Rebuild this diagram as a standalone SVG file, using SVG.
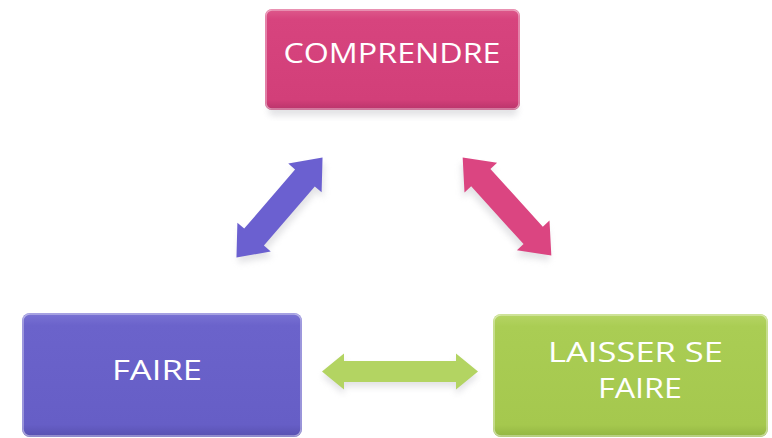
<svg xmlns="http://www.w3.org/2000/svg" width="772" height="438" viewBox="0 0 772 438">
  <defs>
    <linearGradient id="gPink" x1="0" y1="0" x2="0" y2="1">
      <stop offset="0" stop-color="#de5a8c"/>
      <stop offset="0.1" stop-color="#d7447e"/>
      <stop offset="0.9" stop-color="#d23f79"/>
      <stop offset="1" stop-color="#b8336a"/>
    </linearGradient>
    <linearGradient id="gBlue" x1="0" y1="0" x2="0" y2="1">
      <stop offset="0" stop-color="#7a73d4"/>
      <stop offset="0.1" stop-color="#6b63cb"/>
      <stop offset="0.9" stop-color="#665ec6"/>
      <stop offset="1" stop-color="#5850b0"/>
    </linearGradient>
    <linearGradient id="gGreen" x1="0" y1="0" x2="0" y2="1">
      <stop offset="0" stop-color="#b6d565"/>
      <stop offset="0.1" stop-color="#aacd54"/>
      <stop offset="0.9" stop-color="#a5c84e"/>
      <stop offset="1" stop-color="#93b542"/>
    </linearGradient>
    <filter id="soft" x="-20%" y="-20%" width="140%" height="160%">
      <feGaussianBlur stdDeviation="3"/>
    </filter>
  </defs>
  <style>
    .lbl { font-family: "Open Sans", "Liberation Sans", sans-serif; fill: #ffffff; text-anchor: middle; }
    .shadow { fill: #b0b0b8; opacity: 0.35; filter: url(#soft); }
    .edge { fill: none; stroke: #ffffff; stroke-opacity: 0.45; stroke-width: 1.5; }
  </style>
  <rect width="772" height="438" fill="#ffffff"/>

  <g id="connectors">
    <g transform="translate(279.5,207.5) rotate(-49.3)">
      <path class="shadow" transform="translate(-3,5)" d="M -66 0 L -39 -22 L -39 -13 L 39 -13 L 39 -22 L 66 0 L 39 22 L 39 13 L -39 13 L -39 22 Z"/>
      <path fill="#6b60d0" d="M -66 0 L -39 -22 L -39 -13 L 39 -13 L 39 -22 L 66 0 L 39 22 L 39 13 L -39 13 L -39 22 Z"/>
    </g>
    <g transform="translate(507,206.5) rotate(47.8)">
      <path class="shadow" transform="translate(3,5)" d="M -66 0 L -39 -22 L -39 -13 L 39 -13 L 39 -22 L 66 0 L 39 22 L 39 13 L -39 13 L -39 22 Z"/>
      <path fill="#db4581" d="M -66 0 L -39 -22 L -39 -13 L 39 -13 L 39 -22 L 66 0 L 39 22 L 39 13 L -39 13 L -39 22 Z"/>
    </g>
    <g transform="translate(400,371.5)">
      <path class="shadow" transform="translate(0,5)" d="M -78 0 L -56 -18 L -56 -10.5 L 56 -10.5 L 56 -18 L 78 0 L 56 18 L 56 10.5 L -56 10.5 L -56 18 Z"/>
      <path fill="#b3d462" d="M -78 0 L -56 -18 L -56 -10.5 L 56 -10.5 L 56 -18 L 78 0 L 56 18 L 56 10.5 L -56 10.5 L -56 18 Z"/>
    </g>
  </g>

  <g id="node-comprendre">
    <rect class="shadow" x="268" y="104" width="250" height="12" rx="6"/>
    <rect x="265" y="9" width="255" height="101" rx="7" fill="url(#gPink)"/>
    <rect class="edge" x="266" y="10" width="253" height="99" rx="6"/>
    <text class="lbl" x="392" y="63" font-size="27" textLength="217" lengthAdjust="spacingAndGlyphs">COMPRENDRE</text>
  </g>

  <g id="node-faire">
    <rect x="22" y="313" width="280" height="124" rx="8" fill="url(#gBlue)"/>
    <rect class="edge" x="23" y="314" width="278" height="122" rx="7"/>
    <text class="lbl" x="157" y="380" font-size="28" textLength="90" lengthAdjust="spacingAndGlyphs">FAIRE</text>
  </g>

  <g id="node-laisser">
    <rect x="493" y="314" width="275" height="123" rx="8" fill="url(#gGreen)"/>
    <rect class="edge" x="494" y="315" width="273" height="121" rx="7"/>
    <text class="lbl" x="635.5" y="362" font-size="28" textLength="175" lengthAdjust="spacingAndGlyphs">LAISSER SE</text>
    <text class="lbl" x="640" y="398" font-size="28" textLength="84" lengthAdjust="spacingAndGlyphs">FAIRE</text>
  </g>
</svg>
